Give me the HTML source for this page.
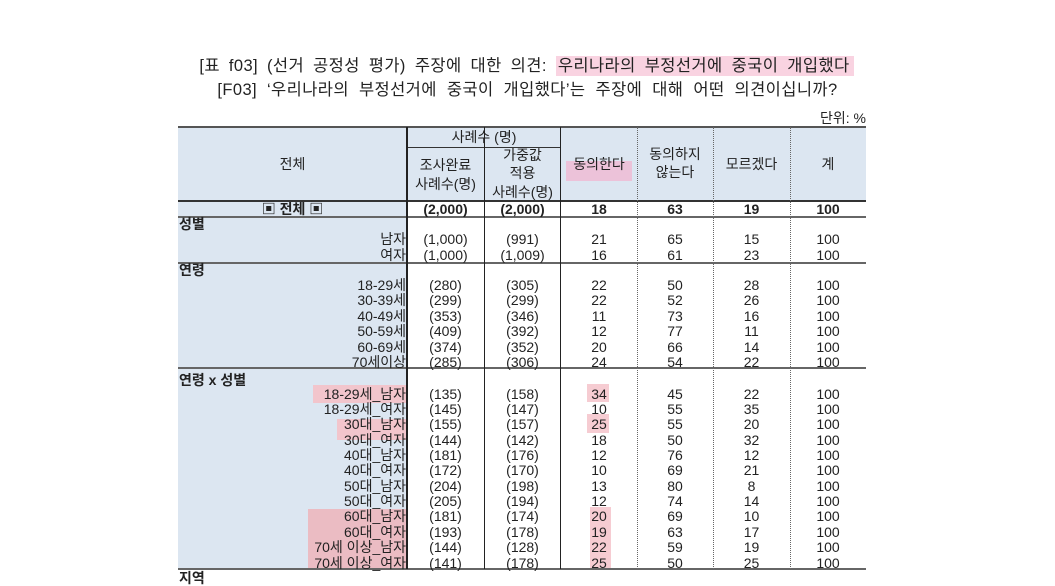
<!DOCTYPE html>
<html lang="ko">
<head>
<meta charset="utf-8">
<style>
html,body{margin:0;padding:0;}
body{width:1055px;height:572px;overflow:hidden;background:#fff;position:relative;font-family:"Liberation Sans","Noto Sans CJK KR",sans-serif;color:#222;}
.abs{position:absolute;}
.t1,.t2{position:absolute;left:0;width:1053px;text-align:center;font-size:16.5px;line-height:22px;white-space:nowrap;word-spacing:4px;letter-spacing:0.4px;color:#222;}
.t1{top:55px;}
.t2{top:79px;word-spacing:5px;left:1px;}
.hl{background:#f9d3e1;padding:1px 4px 1px 2px;}
.unit{position:absolute;left:780px;width:86px;top:108px;text-align:right;font-size:14px;line-height:20px;}
.bgL{position:absolute;left:178px;top:127px;width:229px;height:442px;background:#dce6f1;}
.bgH{position:absolute;left:178px;top:127px;width:688px;height:74px;background:#dce6f1;}
.hr{position:absolute;}
.v{position:absolute;top:127px;height:442px;}
.r{position:absolute;left:0;width:1055px;height:16px;line-height:16px;font-size:14px;white-space:nowrap;}
.r span{position:absolute;top:0;text-align:center;}
.r .l{left:150px;width:256px;text-align:right;}
.r .c1{left:407px;width:77px;}
.r .c2{left:484px;width:77px;}
.r .c3{left:561px;width:76px;}
.r .c4{left:637px;width:76px;}
.r .c5{left:713px;width:77px;}
.r .c6{left:790px;width:76px;}
.b{font-weight:bold;}
.sec{position:absolute;left:179px;font-size:14px;font-weight:bold;line-height:16px;white-space:nowrap;}
.h{position:absolute;text-align:center;font-size:14px;line-height:18px;white-space:nowrap;}
.pk{position:absolute;background:#f2c5cc;}
.pk2{position:absolute;background:#f6ccd2;}
</style>
</head>
<body>

<div class="t1">[표 f03] (선거 공정성 평가) 주장에 대한 의견: <span class="hl">우리나라의 부정선거에 중국이 개입했다</span></div>
<div class="t2">[F03] ‘우리나라의 부정선거에 중국이 개입했다’는 주장에 대해 어떤 의견이십니까?</div>
<div class="unit">단위: %</div>

<div class="bgL"></div>
<div class="bgH"></div>

<!-- highlights -->
<div class="abs" style="left:566px;top:161px;width:66px;height:20px;background:#ecc2d9;"></div>
<div class="pk" style="left:313px;top:385px;width:94px;height:18px;"></div>
<div class="pk" style="left:337px;top:419px;width:70px;height:21px;"></div>
<div class="pk" style="left:308px;top:509px;width:99px;height:60px;background:#ebbcc3;"></div>
<div class="pk2" style="left:587px;top:384px;width:22px;height:18px;"></div>
<div class="pk2" style="left:587px;top:414px;width:22px;height:19px;"></div>
<div class="pk2" style="left:590px;top:507px;width:21px;height:62px;"></div>

<!-- horizontal lines -->
<div class="hr" style="left:178px;top:126px;width:688px;height:2px;background:#555;"></div>
<div class="hr" style="left:407px;top:147px;width:154px;height:1px;background:#333;"></div>
<div class="hr" style="left:178px;top:200px;width:688px;height:2px;background:#333;"></div>
<div class="hr" style="left:178px;top:216px;width:688px;height:2px;background:#666;"></div>
<div class="hr" style="left:178px;top:262px;width:688px;height:2px;background:#666;"></div>
<div class="hr" style="left:178px;top:367px;width:688px;height:2px;background:#666;"></div>
<div class="hr" style="left:178px;top:568px;width:688px;height:2px;background:#666;"></div>

<!-- vertical lines -->
<div class="v" style="left:406px;width:2px;background:#222;"></div>
<div class="v" style="left:484px;width:1px;background:#222;"></div>
<div class="v" style="left:560px;width:1px;background:#222;"></div>
<div class="v" style="left:637px;width:0;border-left:1px dotted #666;"></div>
<div class="v" style="left:713px;width:0;border-left:1px dotted #666;"></div>
<div class="v" style="left:790px;width:0;border-left:1px dotted #666;"></div>

<!-- header text -->
<div class="h" style="left:178px;width:229px;top:155px;">전체</div>
<div class="h" style="left:407px;width:154px;top:128px;">사례수 (명)</div>
<div class="h" style="left:407px;width:77px;top:156px;">조사완료</div>
<div class="h" style="left:407px;width:77px;top:175px;">사례수(명)</div>
<div class="h" style="left:484px;width:77px;top:146px;">가중값</div>
<div class="h" style="left:484px;width:77px;top:164px;">적용</div>
<div class="h" style="left:484px;width:77px;top:183px;">사례수(명)</div>
<div class="h" style="left:561px;width:76px;top:155px;">동의한다</div>
<div class="h" style="left:637px;width:76px;top:145px;">동의하지</div>
<div class="h" style="left:637px;width:76px;top:163px;">않는다</div>
<div class="h" style="left:713px;width:77px;top:155px;">모르겠다</div>
<div class="h" style="left:790px;width:76px;top:155px;">계</div>

<!-- total row -->
<div class="r b" style="top:201px;">
<span style="left:178px;width:229px;">▣ 전체 ▣</span>
<span class="c1">(2,000)</span><span class="c2">(2,000)</span><span class="c3">18</span><span class="c4">63</span><span class="c5">19</span><span class="c6">100</span>
</div>

<!-- 성별 -->
<div class="sec" style="top:216px;">성별</div>
<div class="r" style="top:231px;"><span class="l">남자</span><span class="c1">(1,000)</span><span class="c2">(991)</span><span class="c3">21</span><span class="c4">65</span><span class="c5">15</span><span class="c6">100</span></div>
<div class="r" style="top:247px;"><span class="l">여자</span><span class="c1">(1,000)</span><span class="c2">(1,009)</span><span class="c3">16</span><span class="c4">61</span><span class="c5">23</span><span class="c6">100</span></div>

<!-- 연령 -->
<div class="sec" style="top:262px;">연령</div>
<div class="r" style="top:277px;"><span class="l">18-29세</span><span class="c1">(280)</span><span class="c2">(305)</span><span class="c3">22</span><span class="c4">50</span><span class="c5">28</span><span class="c6">100</span></div>
<div class="r" style="top:292.4px;"><span class="l">30-39세</span><span class="c1">(299)</span><span class="c2">(299)</span><span class="c3">22</span><span class="c4">52</span><span class="c5">26</span><span class="c6">100</span></div>
<div class="r" style="top:307.8px;"><span class="l">40-49세</span><span class="c1">(353)</span><span class="c2">(346)</span><span class="c3">11</span><span class="c4">73</span><span class="c5">16</span><span class="c6">100</span></div>
<div class="r" style="top:323.2px;"><span class="l">50-59세</span><span class="c1">(409)</span><span class="c2">(392)</span><span class="c3">12</span><span class="c4">77</span><span class="c5">11</span><span class="c6">100</span></div>
<div class="r" style="top:338.6px;"><span class="l">60-69세</span><span class="c1">(374)</span><span class="c2">(352)</span><span class="c3">20</span><span class="c4">66</span><span class="c5">14</span><span class="c6">100</span></div>
<div class="r" style="top:354px;"><span class="l">70세이상</span><span class="c1">(285)</span><span class="c2">(306)</span><span class="c3">24</span><span class="c4">54</span><span class="c5">22</span><span class="c6">100</span></div>

<!-- 연령 x 성별 -->
<div class="sec" style="top:372px;">연령 x 성별</div>
<div class="r" style="top:385.5px;"><span class="l">18-29세_남자</span><span class="c1">(135)</span><span class="c2">(158)</span><span class="c3">34</span><span class="c4">45</span><span class="c5">22</span><span class="c6">100</span></div>
<div class="r" style="top:400.9px;"><span class="l">18-29세_여자</span><span class="c1">(145)</span><span class="c2">(147)</span><span class="c3">10</span><span class="c4">55</span><span class="c5">35</span><span class="c6">100</span></div>
<div class="r" style="top:416.2px;"><span class="l">30대_남자</span><span class="c1">(155)</span><span class="c2">(157)</span><span class="c3">25</span><span class="c4">55</span><span class="c5">20</span><span class="c6">100</span></div>
<div class="r" style="top:431.6px;"><span class="l">30대_여자</span><span class="c1">(144)</span><span class="c2">(142)</span><span class="c3">18</span><span class="c4">50</span><span class="c5">32</span><span class="c6">100</span></div>
<div class="r" style="top:447px;"><span class="l">40대_남자</span><span class="c1">(181)</span><span class="c2">(176)</span><span class="c3">12</span><span class="c4">76</span><span class="c5">12</span><span class="c6">100</span></div>
<div class="r" style="top:462.3px;"><span class="l">40대_여자</span><span class="c1">(172)</span><span class="c2">(170)</span><span class="c3">10</span><span class="c4">69</span><span class="c5">21</span><span class="c6">100</span></div>
<div class="r" style="top:477.7px;"><span class="l">50대_남자</span><span class="c1">(204)</span><span class="c2">(198)</span><span class="c3">13</span><span class="c4">80</span><span class="c5">8</span><span class="c6">100</span></div>
<div class="r" style="top:493px;"><span class="l">50대_여자</span><span class="c1">(205)</span><span class="c2">(194)</span><span class="c3">12</span><span class="c4">74</span><span class="c5">14</span><span class="c6">100</span></div>
<div class="r" style="top:508.4px;"><span class="l">60대_남자</span><span class="c1">(181)</span><span class="c2">(174)</span><span class="c3">20</span><span class="c4">69</span><span class="c5">10</span><span class="c6">100</span></div>
<div class="r" style="top:523.8px;"><span class="l">60대_여자</span><span class="c1">(193)</span><span class="c2">(178)</span><span class="c3">19</span><span class="c4">63</span><span class="c5">17</span><span class="c6">100</span></div>
<div class="r" style="top:539.1px;"><span class="l">70세 이상_남자</span><span class="c1">(144)</span><span class="c2">(128)</span><span class="c3">22</span><span class="c4">59</span><span class="c5">19</span><span class="c6">100</span></div>
<div class="r" style="top:554.5px;"><span class="l">70세 이상_여자</span><span class="c1">(141)</span><span class="c2">(178)</span><span class="c3">25</span><span class="c4">50</span><span class="c5">25</span><span class="c6">100</span></div>

<div class="sec" style="top:570px;">지역</div>

</body>
</html>
